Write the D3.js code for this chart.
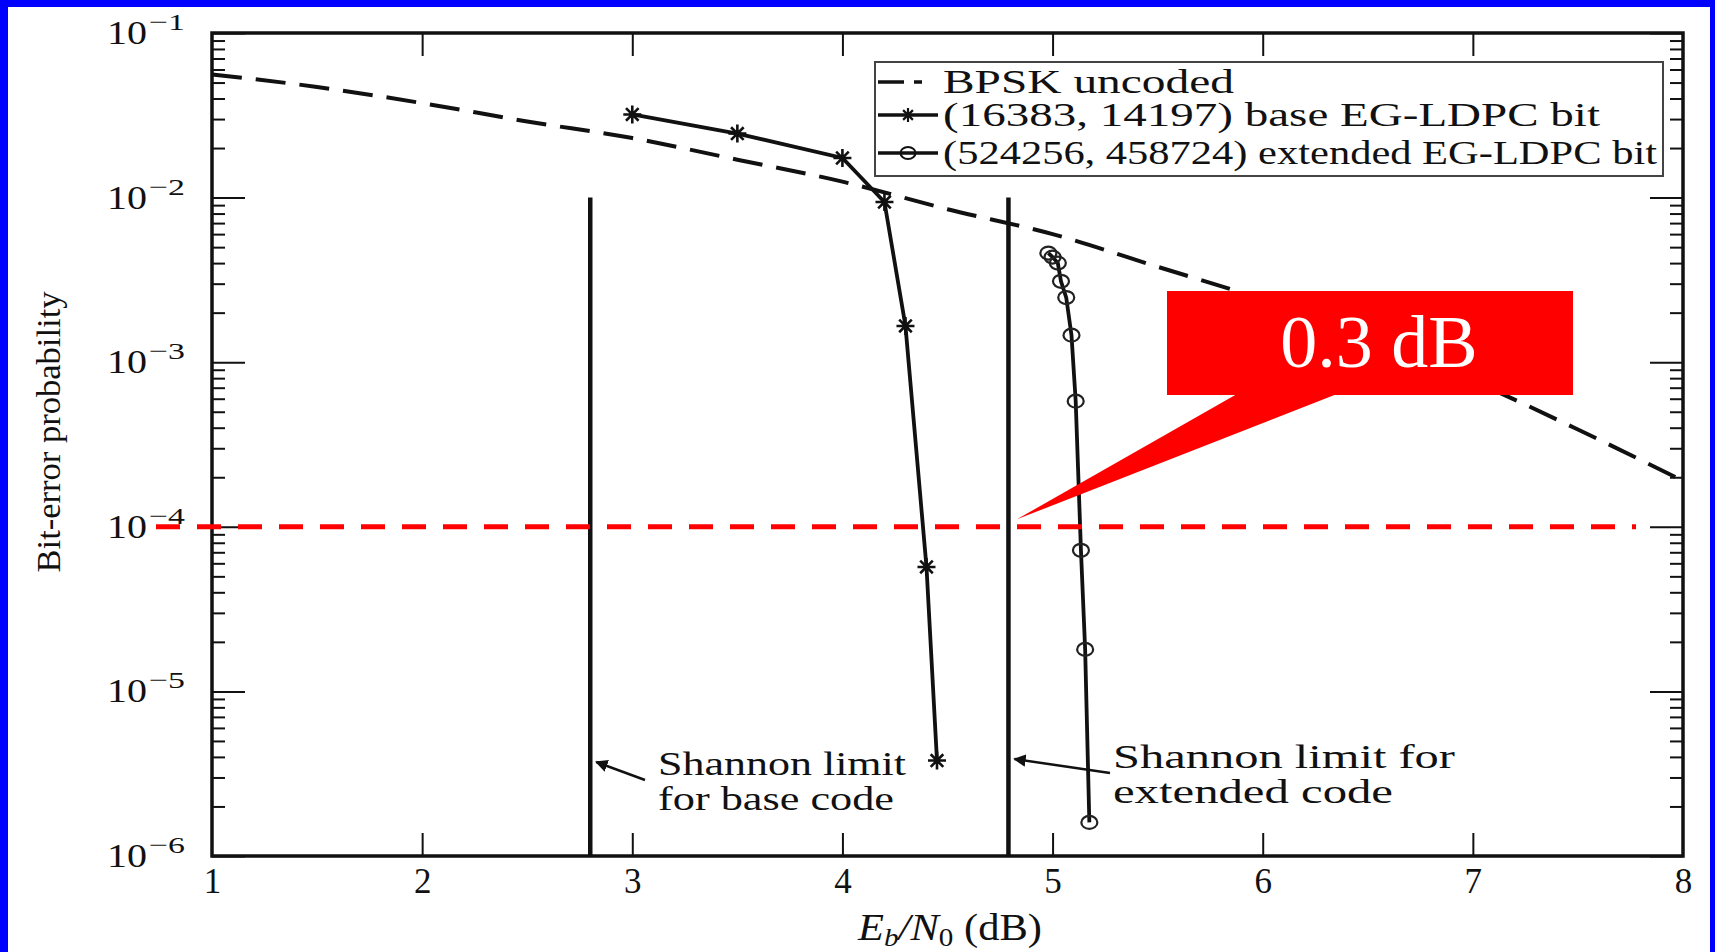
<!DOCTYPE html>
<html lang="en">
<head>
    <meta charset="utf-8">
    <title>Bit-error probability vs Eb/N0</title>
    <script type="text/javascript" src="https://cdn.jsdelivr.net/npm/d3@7"></script>
    <style type="text/css">
        body { margin: 0; overflow: hidden; background: #0000ff; }
        svg { display: block; }
        text { font-family: "Liberation Serif", "Times New Roman", serif; fill: #111; }
    </style>
</head>
<body>
    <script type="text/javascript">
        // values
        var xTicks = [1, 2, 3, 4, 5, 6, 7, 8];
        var yMajors = [1e-1, 1e-2, 1e-3, 1e-4, 1e-5, 1e-6];
        var yExponents = ["\u22121", "\u22122", "\u22123", "\u22124", "\u22125", "\u22126"];

        // BPSK uncoded (dashed)
        var bpskX = [1, 1.5, 2, 2.5, 3, 3.5, 4, 4.5, 5, 5.5, 6, 6.5, 7, 7.5, 8];
        var bpskY = [5.6e-2, 4.7e-2, 3.75e-2, 2.9e-2, 2.3e-2, 1.7e-2, 1.25e-2, 8.5e-3,
                     6.0e-3, 3.8e-3, 2.4e-3, 1.4e-3, 7.7e-4, 3.9e-4, 1.9e-4];

        // (16383, 14197) base EG-LDPC
        var baseX = [3.0, 3.5, 4.0, 4.2, 4.3, 4.4, 4.45];
        var baseY = [3.2e-2, 2.45e-2, 1.74e-2, 9.4e-3, 1.66e-3, 5.7e-5, 3.8e-6];

        // (524256, 458724) extended EG-LDPC
        var extX = [4.98, 5.0, 5.025, 5.04, 5.065, 5.09, 5.11, 5.135, 5.155, 5.175];
        var extY = [4.6e-3, 4.35e-3, 4.0e-3, 3.1e-3, 2.47e-3, 1.46e-3, 5.8e-4, 7.2e-5, 1.8e-5, 1.6e-6];

        // Shannon limits (dB)
        var shannonX = [2.8, 4.79];
        var shannonTop = 1e-2;
        var refLevel = 1e-4;

        var width = 1715, height = 952;

        var svg = d3.select("body").append("svg")
            .attr("width", width)
            .attr("height", height);

        // blue frame and white page
        svg.append("rect").attr("width", width).attr("height", height).attr("fill", "#0000ff");
        svg.append("rect").attr("x", 8).attr("y", 7).attr("width", 1702).attr("height", 945).attr("fill", "#fff");

        var x = d3.scaleLinear().domain([1, 8]).range([212, 1683]);
        var y = d3.scaleLog().domain([1e-6, 1e-1]).range([856, 33]);

        var pLeft = x.range()[0], pRight = x.range()[1];
        var pTop = y.range()[1], pBottom = y.range()[0];

        // minor ticks 2..9 per decade
        var yMinors = y.ticks().filter(function(v) {
            return yMajors.indexOf(v) < 0 && v > 1e-6 && v < 1e-1;
        });

        function styleAxis(g) {
            g.select(".domain").remove();
            g.selectAll("line").attr("stroke", "#111").attr("stroke-width", 2);
        }

        // left axis ticks (pointing inward)
        svg.append("g").attr("transform", "translate(" + pLeft + ",0)")
            .call(d3.axisRight(y).tickValues(yMinors).tickSize(13).tickFormat(""))
            .call(styleAxis);
        svg.append("g").attr("transform", "translate(" + pLeft + ",0)")
            .call(d3.axisRight(y).tickValues(yMajors).tickSize(33).tickFormat(""))
            .call(styleAxis);
        // right axis ticks
        svg.append("g").attr("transform", "translate(" + pRight + ",0)")
            .call(d3.axisLeft(y).tickValues(yMinors).tickSize(13).tickFormat(""))
            .call(styleAxis);
        svg.append("g").attr("transform", "translate(" + pRight + ",0)")
            .call(d3.axisLeft(y).tickValues(yMajors).tickSize(33).tickFormat(""))
            .call(styleAxis);

        // x ticks top and bottom
        var inner = xTicks.filter(function(v) { return v > 1 && v < 8; });
        svg.append("g").attr("transform", "translate(0," + pBottom + ")")
            .call(d3.axisTop(x).tickValues(inner).tickSize(23).tickFormat(""))
            .call(styleAxis);
        svg.append("g").attr("transform", "translate(0," + pTop + ")")
            .call(d3.axisBottom(x).tickValues(inner).tickSize(23).tickFormat(""))
            .call(styleAxis);

        // x tick labels
        var xl = svg.append("g").attr("transform", "translate(0," + pBottom + ")")
            .call(d3.axisBottom(x).tickValues(xTicks).tickSize(0).tickPadding(12).tickFormat(d3.format("d")));
        xl.select(".domain").remove();
        xl.selectAll("text")
            .attr("font-size", 35)
            .attr("fill", "#111");

        // y tick labels: 10^-k
        var yl = svg.append("g");
        yMajors.forEach(function(v, i) {
            yl.append("text")
                .attr("x", 107).attr("y", y(v) + 11)
                .attr("font-size", 33)
                .attr("textLength", 40).attr("lengthAdjust", "spacingAndGlyphs")
                .text("10");
            yl.append("text")
                .attr("x", 149).attr("y", y(v) - 3)
                .attr("font-size", 24)
                .attr("textLength", 36).attr("lengthAdjust", "spacingAndGlyphs")
                .text(yExponents[i]);
        });

        var line = d3.line()
            .x(function(d) { return x(d[0]); })
            .y(function(d) { return y(d[1]); });

        var bpsk = d3.zip(bpskX, bpskY);
        var base = d3.zip(baseX, baseY);
        var ext = d3.zip(extX, extY);

        // Shannon limit lines
        shannonX.forEach(function(s) {
            svg.append("line")
                .attr("x1", x(s)).attr("x2", x(s))
                .attr("y1", y(shannonTop)).attr("y2", pBottom)
                .attr("stroke", "#111").attr("stroke-width", 4.5);
        });

        // BPSK dashed
        svg.append("path").datum(bpsk)
            .attr("d", line.curve(d3.curveMonotoneX))
            .attr("fill", "none").attr("stroke", "#111")
            .attr("stroke-width", 4).attr("stroke-dasharray", "30,14");
        line.curve(d3.curveLinear);

        // coded curves
        svg.append("path").datum(base).attr("d", line)
            .attr("fill", "none").attr("stroke", "#111").attr("stroke-width", 3.8);
        svg.append("path").datum(ext).attr("d", line)
            .attr("fill", "none").attr("stroke", "#111").attr("stroke-width", 3.8);

        function star(s) {
            var a = s * 0.7;
            return "M" + (-s) + ",0h" + (2 * s) + "M0," + (-s) + "v" + (2 * s) +
                "M" + (-a) + "," + (-a) + "l" + (2 * a) + "," + (2 * a) +
                "M" + (-a) + "," + a + "l" + (2 * a) + "," + (-2 * a);
        }

        svg.selectAll(".star").data(base).enter().append("path")
            .attr("class", "star")
            .attr("transform", function(d) { return "translate(" + x(d[0]) + "," + y(d[1]) + ")"; })
            .attr("d", star(9))
            .attr("stroke", "#111").attr("stroke-width", 2.6).attr("fill", "none");

        svg.selectAll(".circ").data(ext).enter().append("ellipse")
            .attr("class", "circ")
            .attr("cx", function(d) { return x(d[0]); })
            .attr("cy", function(d) { return y(d[1]); })
            .attr("rx", 8).attr("ry", 6.5)
            .attr("stroke", "#222").attr("stroke-width", 2.2).attr("fill", "none");

        // frame
        svg.append("rect")
            .attr("x", pLeft).attr("y", pTop)
            .attr("width", pRight - pLeft).attr("height", pBottom - pTop)
            .attr("fill", "none").attr("stroke", "#111").attr("stroke-width", 3.5);

        // legend
        var lg = svg.append("g");
        lg.append("rect").attr("x", 875).attr("y", 62).attr("width", 788).attr("height", 114)
            .attr("fill", "#fff").attr("stroke", "#444").attr("stroke-width", 2);
        var legendRows = [
            { label: "BPSK uncoded", base: 93, len: 291, kind: "dash" },
            { label: "(16383, 14197) base EG-LDPC bit", base: 126, len: 657, kind: "star" },
            { label: "(524256, 458724) extended EG-LDPC bit", base: 164, len: 714, kind: "circ" }
        ];
        legendRows.forEach(function(r) {
            var ly = r.base - 11;
            var l = lg.append("line").attr("x1", 878).attr("x2", 938).attr("y1", ly).attr("y2", ly)
                .attr("stroke", "#111").attr("stroke-width", 3.5);
            if (r.kind === "dash") l.attr("stroke-dasharray", "26,10,8,100");
            if (r.kind === "star") lg.append("path").attr("transform", "translate(908," + ly + ")")
                .attr("d", star(7)).attr("stroke", "#111").attr("stroke-width", 2.2).attr("fill", "none");
            if (r.kind === "circ") lg.append("ellipse").attr("cx", 908).attr("cy", ly).attr("rx", 7.5).attr("ry", 6)
                .attr("stroke", "#111").attr("stroke-width", 2).attr("fill", "none");
            lg.append("text").attr("x", 943).attr("y", r.base).attr("font-size", 33)
                .attr("textLength", r.len).attr("lengthAdjust", "spacingAndGlyphs")
                .text(r.label);
        });

        // Shannon limit annotations
        var notes = [
            { x: 658, y: 775, text: "Shannon limit", len: 248 },
            { x: 658, y: 810, text: "for base code", len: 236 },
            { x: 1113, y: 768, text: "Shannon limit for", len: 342 },
            { x: 1113, y: 803, text: "extended code", len: 280 }
        ];
        notes.forEach(function(n) {
            svg.append("text").attr("x", n.x).attr("y", n.y).attr("font-size", 33)
                .attr("textLength", n.len).attr("lengthAdjust", "spacingAndGlyphs").text(n.text);
        });

        svg.append("defs").append("marker")
            .attr("id", "arr").attr("viewBox", "0 0 10 10").attr("refX", 9).attr("refY", 5)
            .attr("markerWidth", 5).attr("markerHeight", 5).attr("orient", "auto")
            .append("path").attr("d", "M0,0L10,5L0,10z").attr("fill", "#111");

        var arrows = [
            { x1: 645, y1: 780, x2: x(shannonX[0]) + 6, y2: 762 },
            { x1: 1110, y1: 773, x2: x(shannonX[1]) + 6, y2: 759 }
        ];
        arrows.forEach(function(a) {
            svg.append("line").attr("x1", a.x1).attr("y1", a.y1).attr("x2", a.x2).attr("y2", a.y2)
                .attr("stroke", "#111").attr("stroke-width", 2.5).attr("marker-end", "url(#arr)");
        });

        // red reference line at 1e-4
        svg.append("line")
            .attr("x1", pLeft - 56).attr("x2", pRight - 47)
            .attr("y1", y(refLevel)).attr("y2", y(refLevel))
            .attr("stroke", "#ff0000").attr("stroke-width", 5)
            .attr("stroke-dasharray", "24,17");

        // red callout
        var tipX = x(4.83), tipY = y(1.11e-4);
        svg.append("polygon")
            .attr("points", [[1237, 394], [1337, 394], [tipX, tipY]].map(function(p) { return p.join(","); }).join(" "))
            .attr("fill", "#ff0000");
        svg.append("rect").attr("x", 1167).attr("y", 291).attr("width", 406).attr("height", 104)
            .attr("fill", "#ff0000");
        svg.append("text").attr("x", 1379).attr("y", 367)
            .attr("text-anchor", "middle").attr("font-size", 74)
            .style("fill", "#fff").text("0.3 dB");

        // axis titles
        var xt = svg.append("text")
            .attr("transform", "translate(950,940) scale(1.12,1)")
            .attr("text-anchor", "middle").attr("font-size", 38);
        xt.append("tspan").attr("font-style", "italic").text("E");
        xt.append("tspan").attr("font-style", "italic").attr("font-size", 26).attr("dy", 6).text("b");
        xt.append("tspan").attr("font-style", "italic").attr("dy", -6).text("/N");
        xt.append("tspan").attr("font-size", 26).attr("dy", 6).text("0");
        xt.append("tspan").attr("dy", -6).text(" (dB)");

        svg.append("text")
            .attr("transform", "translate(60,432) rotate(-90)")
            .attr("text-anchor", "middle").attr("font-size", 34)
            .attr("textLength", 281).attr("lengthAdjust", "spacingAndGlyphs")
            .text("Bit-error probability");
    </script>
</body>
</html>
